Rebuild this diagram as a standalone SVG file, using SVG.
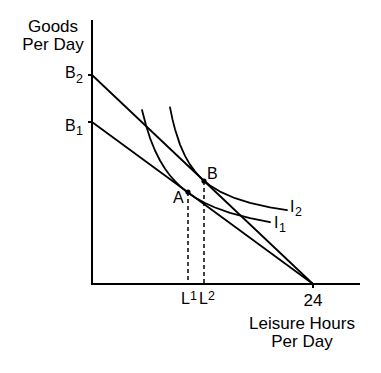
<svg xmlns="http://www.w3.org/2000/svg" width="381" height="373" viewBox="0 0 381 373">
<style>
.ax{stroke:#000;stroke-width:2;fill:none}
.ln{stroke:#000;stroke-width:1.8;fill:none;stroke-linecap:round}
.cv{stroke:#000;stroke-width:1.8;fill:none;stroke-linejoin:round;stroke-linecap:round}
.ds{stroke:#000;stroke-width:1.5;fill:none;stroke-dasharray:4 3}
text{font-family:"Liberation Sans",Arial,Helvetica,sans-serif;font-size:16px;fill:#000}
.wd{font-size:17px}
.sm{font-size:12.5px}
</style>
<rect width="381" height="373" fill="#fff"/>
<g id="axes">
<line class="ax" x1="92" y1="20" x2="92" y2="285"/>
<line class="ax" x1="91" y1="284" x2="360" y2="284"/>
<line class="ax" x1="88" y1="75" x2="92" y2="75" stroke-width="1.5"/>
<line class="ax" x1="88" y1="122" x2="92" y2="122" stroke-width="1.5"/>
<line class="ax" x1="313" y1="284" x2="313" y2="288" stroke-width="1.5"/>
</g>
<g id="connectors">
<line id="budget2" class="ln" x1="92" y1="75" x2="313" y2="284"/>
<line id="budget1" class="ln" x1="92" y1="122" x2="313" y2="284"/>
<line id="dashL1" class="ds" x1="188" y1="192" x2="188" y2="284"/>
<line id="dashL2" class="ds" x1="204" y1="181" x2="204" y2="284"/>
</g>
<g id="I1">
<path class="cv" d="M142,110 L146,125.2 L150,138.1 L155,150.5 L160,160.5 L165,168.7 L170,175.5 L175,181.2 L180,186.2 L187,192 L195,197.5 L205,203 L215,207.5 L230,212.9 L250,218.2 L270,222.2"/>
<text x="274" y="228">I</text><text class="sm" x="279" y="232">1</text>
</g>
<g id="I2">
<path class="cv" d="M170,107.4 L172.5,119.4 L175,129.3 L180,144.6 L185,155.9 L190,164.6 L195,171.4 L200,177 L204,180.8 L210,185.5 L220,191.6 L235,198.2 L250,202.9 L270,207.4 L287,210.2"/>
<text x="290" y="212">I</text><text class="sm" x="295" y="216">2</text>
</g>
<g id="A">
<circle cx="188" cy="192" r="2.6"/>
<text x="173" y="203">A</text>
</g>
<g id="B">
<circle cx="204" cy="181" r="2.6"/>
<text x="207" y="179">B</text>
</g>
<g id="labels">
<text class="wd" x="53" y="32" text-anchor="middle">Goods</text>
<text class="wd" x="53" y="50" text-anchor="middle">Per Day</text>
<text x="65" y="78">B</text><text class="sm" x="76" y="83">2</text>
<text x="65" y="131">B</text><text class="sm" x="76" y="135">1</text>
<text x="181" y="304">L</text><text class="sm" x="190" y="300">1</text>
<text x="199" y="304">L</text><text class="sm" x="208" y="300">2</text>
<text class="wd" x="313" y="306" text-anchor="middle">24</text>
<text class="wd" x="302" y="329" text-anchor="middle">Leisure Hours</text>
<text class="wd" x="302" y="347" text-anchor="middle">Per Day</text>
</g>
</svg>
